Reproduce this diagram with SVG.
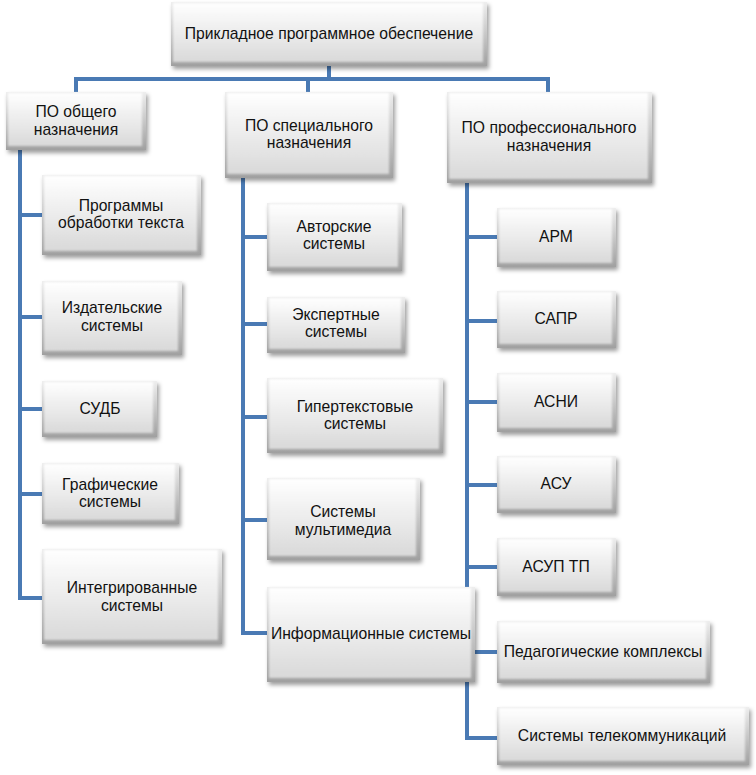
<svg xmlns="http://www.w3.org/2000/svg" width="756" height="775" viewBox="0 0 756 775">
<defs>
<linearGradient id="edge" x1="0" y1="0" x2="0" y2="1">
<stop offset="0" stop-color="#eeeeee"/>
<stop offset="1" stop-color="#a0a0a0"/>
</linearGradient>
<linearGradient id="face" x1="0" y1="0" x2="0" y2="1">
<stop offset="0" stop-color="#ffffff"/>
<stop offset="1" stop-color="#d9d9d9"/>
</linearGradient>
<filter id="sh" x="-10%" y="-10%" width="125%" height="135%">
<feDropShadow dx="2" dy="3" stdDeviation="2" flood-color="#000" flood-opacity="0.38"/>
</filter>
<filter id="bl" x="-5%" y="-5%" width="110%" height="110%">
<feGaussianBlur stdDeviation="1.2"/>
</filter>
</defs>
<style>
.bx{fill:url(#edge);filter:url(#sh)}
.in{fill:url(#face);filter:url(#bl)}
text{font-family:"Liberation Sans",Arial,sans-serif;font-size:15.7px;fill:#111111;text-anchor:middle}
.c{fill:none;stroke:#4a7ab4;stroke-width:4;stroke-linejoin:miter}
</style>
<rect width="756" height="775" fill="#ffffff"/>
<g id="connectors">
<path class="c" d="M329,66 V79 M76,92 V79 H548 V92 M308,79 V92"/>
<path class="c" d="M20,150 V598 H42 M20,215 H42 M20,317 H42 M20,409 H42 M20,494 H42"/>
<path class="c" d="M243,178 V633 H267 M243,237 H267 M243,324 H267 M243,417 H267 M243,520 H267"/>
<path class="c" d="M467,183 V738 H497 M467,237 H497 M467,321 H497 M467,402 H497 M467,485 H497 M467,567 H497 M467,652 H497"/>
</g>
<g id="n0"><rect class="bx" x="171" y="2" width="316" height="64"/><rect class="in" x="173" y="3" width="310" height="59"/><text x="329" y="39">Прикладное программное обеспечение</text></g>
<g id="n1"><rect class="bx" x="6" y="92" width="140" height="58"/><rect class="in" x="8" y="93" width="134" height="53"/><text x="76" y="117">ПО общего</text><text x="76" y="135">назначения</text></g>
<g id="n2"><rect class="bx" x="225" y="92" width="168" height="86"/><rect class="in" x="227" y="93" width="162" height="81"/><text x="309" y="131">ПО специального</text><text x="309" y="148">назначения</text></g>
<g id="n3"><rect class="bx" x="447" y="92" width="205" height="91"/><rect class="in" x="449" y="93" width="199" height="86"/><text x="549" y="133">ПО профессионального</text><text x="549" y="151">назначения</text></g>
<g id="n4"><rect class="bx" x="42" y="175" width="159" height="80"/><rect class="in" x="44" y="176" width="153" height="75"/><text x="121" y="211">Программы</text><text x="121" y="228">обработки текста</text></g>
<g id="n5"><rect class="bx" x="42" y="281" width="140" height="74"/><rect class="in" x="44" y="282" width="134" height="69"/><text x="112" y="313">Издательские</text><text x="112" y="331">системы</text></g>
<g id="n6"><rect class="bx" x="42" y="381" width="115" height="56"/><rect class="in" x="44" y="382" width="109" height="51"/><text x="100" y="414">СУДБ</text></g>
<g id="n7"><rect class="bx" x="42" y="463" width="137" height="61"/><rect class="in" x="44" y="464" width="131" height="56"/><text x="110" y="490">Графические</text><text x="110" y="507">системы</text></g>
<g id="n8"><rect class="bx" x="42" y="549" width="180" height="95"/><rect class="in" x="44" y="550" width="174" height="90"/><text x="132" y="593">Интегрированные</text><text x="132" y="611">системы</text></g>
<g id="n9"><rect class="bx" x="267" y="203" width="135" height="68"/><rect class="in" x="269" y="204" width="129" height="63"/><text x="334" y="232">Авторские</text><text x="334" y="249">системы</text></g>
<g id="n10"><rect class="bx" x="267" y="297" width="138" height="56"/><rect class="in" x="269" y="298" width="132" height="51"/><text x="336" y="320">Экспертные</text><text x="336" y="337">системы</text></g>
<g id="n11"><rect class="bx" x="267" y="378" width="176" height="75"/><rect class="in" x="269" y="379" width="170" height="70"/><text x="355" y="412">Гипертекстовые</text><text x="355" y="429">системы</text></g>
<g id="n12"><rect class="bx" x="267" y="478" width="153" height="82"/><rect class="in" x="269" y="479" width="147" height="77"/><text x="343" y="517">Системы</text><text x="343" y="535">мультимедиа</text></g>
<g id="n13"><rect class="bx" x="267" y="587" width="208" height="95"/><rect class="in" x="269" y="588" width="202" height="90"/><text x="371" y="639">Информационные системы</text></g>
<g id="n14"><rect class="bx" x="497" y="208" width="119" height="59"/><rect class="in" x="499" y="209" width="113" height="54"/><text x="556" y="242">АРМ</text></g>
<g id="n15"><rect class="bx" x="497" y="291" width="119" height="57"/><rect class="in" x="499" y="292" width="113" height="52"/><text x="556" y="324">САПР</text></g>
<g id="n16"><rect class="bx" x="497" y="373" width="119" height="59"/><rect class="in" x="499" y="374" width="113" height="54"/><text x="556" y="407">АСНИ</text></g>
<g id="n17"><rect class="bx" x="497" y="456" width="119" height="57"/><rect class="in" x="499" y="457" width="113" height="52"/><text x="556" y="489">АСУ</text></g>
<g id="n18"><rect class="bx" x="497" y="538" width="119" height="58"/><rect class="in" x="499" y="539" width="113" height="53"/><text x="556" y="572">АСУП ТП</text></g>
<g id="n19"><rect class="bx" x="497" y="621" width="213" height="62"/><rect class="in" x="499" y="622" width="207" height="57"/><text x="603" y="657">Педагогические комплексы</text></g>
<g id="n20"><rect class="bx" x="497" y="707" width="252" height="58"/><rect class="in" x="499" y="708" width="246" height="53"/><text x="622" y="741">Системы телекоммуникаций</text></g>
</svg>
